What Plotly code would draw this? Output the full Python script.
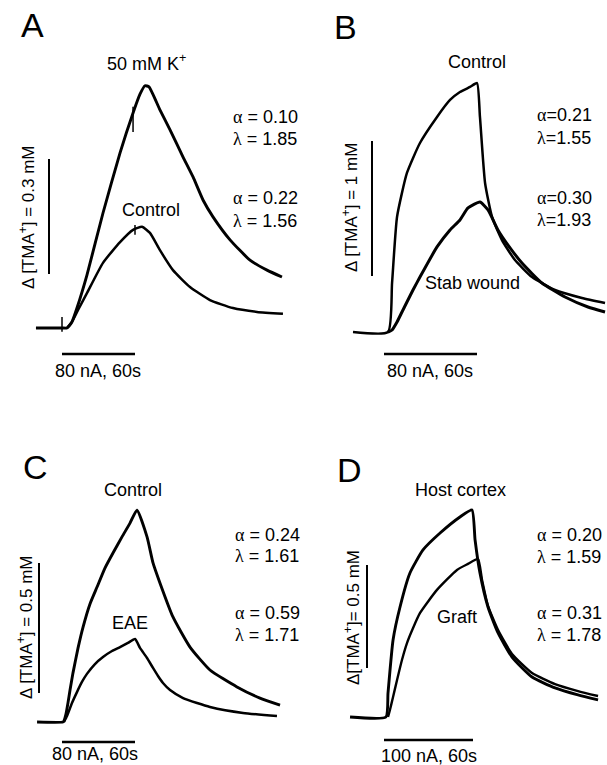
import plotly.graph_objects as go

W, H = 607, 765
FONT = "Liberation Sans, Arial, sans-serif"

# ---------------- data (time in s, concentration in mM) ----------------
# Panel A
a_k_t = [-21.4, 0, 4.1, 6.0, 8.2, 12.3, 20.5, 33.7, 47.7, 58.4, 64.1, 68.2, 71.5, 80.5, 88.8, 99.5, 107.7, 115.9, 124.1, 138.1, 154.5, 168.5, 180.8]
a_k_c = [0, 0, 0, 0.006, 0.016, 0.052, 0.138, 0.300, 0.457, 0.561, 0.610, 0.632, 0.629, 0.569, 0.517, 0.446, 0.394, 0.334, 0.290, 0.230, 0.177, 0.151, 0.133]
a_ctl_t = [4.1, 8.2, 13.2, 20.5, 33.7, 47.7, 58.4, 65.8, 72.3, 80.5, 91.2, 105.2, 121.6, 140.5, 160.3, 181.6]
a_ctl_c = [0, 0.016, 0.047, 0.091, 0.170, 0.224, 0.256, 0.264, 0.248, 0.203, 0.151, 0.107, 0.073, 0.052, 0.042, 0.037]
# small current-marker ticks in panel A (time, low conc, high conc)
a_marks = [(0, -0.010, 0.029), (58.4, 0.511, 0.577), (60.0, 0.243, 0.269)]

# Panel B
b_ctl_t = [-20.0, 2.6, 5.2, 8.4, 14.8, 23.2, 34.2, 42.6, 49.0, 55.5, 60.0, 61.9, 65.2, 69.7, 76.1, 84.5, 95.5, 110.3, 127.7, 142.6]
b_ctl_c = [0, 0, 0.363, 0.852, 1.178, 1.400, 1.593, 1.719, 1.778, 1.815, 1.844, 1.593, 1.104, 0.852, 0.681, 0.533, 0.407, 0.311, 0.252, 0.215]
b_stab_t = [2.6, 5.2, 8.4, 11.6, 14.8, 18.7, 23.2, 34.2, 42.6, 49.0, 54.2, 61.9, 67.1, 73.5, 80.0, 89.0, 101.9, 116.8, 131.6, 142.6]
b_stab_c = [0, 0.015, 0.074, 0.148, 0.222, 0.311, 0.407, 0.630, 0.756, 0.830, 0.919, 0.963, 0.904, 0.756, 0.644, 0.511, 0.363, 0.259, 0.185, 0.148]

# Panel C
c_ctl_t = [-20.5, 0.8, 1.6, 3.3, 4.9, 6.6, 9.0, 13.2, 17.3, 23.0, 28.8, 35.3, 41.9, 49.3, 55.9, 61.6, 69.9, 74.8, 80.5, 91.2, 105.2, 121.6, 143.8, 162.7, 179.2]
c_ctl_c = [0, 0, 0.004, 0.031, 0.073, 0.123, 0.188, 0.285, 0.365, 0.454, 0.519, 0.592, 0.650, 0.712, 0.765, 0.815, 0.712, 0.612, 0.535, 0.404, 0.288, 0.200, 0.135, 0.092, 0.065]
c_eae_t = [1.6, 4.1, 8.2, 12.3, 16.4, 20.5, 27.1, 33.7, 41.1, 47.7, 54.2, 60.0, 64.1, 69.9, 74.8, 78.9, 83.0, 88.8, 99.5, 111.0, 121.6, 148.8, 176.7]
c_eae_c = [0, 0.023, 0.073, 0.115, 0.154, 0.185, 0.223, 0.250, 0.273, 0.288, 0.304, 0.319, 0.285, 0.246, 0.208, 0.177, 0.150, 0.123, 0.092, 0.073, 0.058, 0.035, 0.023]

# Panel D
d_host_t = [-22.9, 1.3, 2.7, 6.1, 10.8, 17.5, 26.3, 37.8, 51.2, 59.3, 61.4, 64.7, 70.1, 76.9, 86.3, 99.8, 115.3, 130.8, 144.3]
d_host_c = [0, 0, 0.117, 0.374, 0.534, 0.699, 0.811, 0.893, 0.971, 1.005, 0.859, 0.699, 0.534, 0.408, 0.291, 0.194, 0.141, 0.107, 0.083]
d_graft_t = [2.7, 4.0, 6.1, 8.8, 12.1, 15.5, 19.6, 24.3, 35.7, 49.2, 56.6, 63.4, 66.1, 70.1, 76.9, 86.3, 99.8, 115.3, 130.8, 144.3]
d_graft_c = [0, 0.034, 0.097, 0.180, 0.277, 0.359, 0.432, 0.505, 0.617, 0.714, 0.743, 0.767, 0.665, 0.540, 0.422, 0.306, 0.214, 0.160, 0.126, 0.102]

# scale bars (value of the bar)
bar_time = 60
bar_conc = {"A": 0.3, "B": 1.0, "C": 0.5, "D": 0.5}

# ---------------- layout calibration (pixels) ----------------
panels = {
    "A": dict(box=(0, 303, 0, 382), t0px=62, pps=73 / 60, base=328, ppm=115 / 0.3, vbar_x=49, vbar_y=274, hbar_y=354),
    "B": dict(box=(303, 607, 0, 382), t0px=384, pps=93 / 60, base=332, ppm=135 / 1.0, vbar_x=372, vbar_y=276, hbar_y=354),
    "C": dict(box=(0, 303, 382, 765), t0px=62, pps=73 / 60, base=722, ppm=130 / 0.5, vbar_x=39, vbar_y=693, hbar_y=742),
    "D": dict(box=(303, 607, 382, 765), t0px=384, pps=89 / 60, base=717, ppm=103 / 0.5, vbar_x=367, vbar_y=668, hbar_y=740),
}

series = {
    "A": [(a_k_t, a_k_c, 2.9), (a_ctl_t, a_ctl_c, 2.5)],
    "B": [(b_ctl_t, b_ctl_c, 2.5), (b_stab_t, b_stab_c, 3.0)],
    "C": [(c_ctl_t, c_ctl_c, 2.9), (c_eae_t, c_eae_c, 2.5)],
    "D": [(d_host_t, d_host_c, 2.9), (d_graft_t, d_graft_c, 2.4)],
}

fig = go.Figure()
shapes = []
for i, key in enumerate(["A", "B", "C", "D"]):
    p = panels[key]
    x0, x1, y0, y1 = p["box"]
    sfx = "" if i == 0 else str(i + 1)
    xr = [(x0 - p["t0px"]) / p["pps"], (x1 - p["t0px"]) / p["pps"]]
    yr = [(p["base"] - y1) / p["ppm"], (p["base"] - y0) / p["ppm"]]
    fig.layout["xaxis" + sfx] = dict(domain=[x0 / W, x1 / W], range=xr, visible=False,
                                     anchor="y" + sfx, fixedrange=True)
    fig.layout["yaxis" + sfx] = dict(domain=[1 - y1 / H, 1 - y0 / H], range=yr, visible=False,
                                     anchor="x" + sfx, fixedrange=True)
    for t, c, w in series[key]:
        fig.add_trace(go.Scatter(x=t, y=c, mode="lines", xaxis="x" + sfx, yaxis="y" + sfx,
                                 line=dict(color="black", width=w, shape="spline", smoothing=0.5),
                                 hoverinfo="skip", showlegend=False))
    vt = (p["vbar_x"] - p["t0px"]) / p["pps"]
    vc0 = (p["base"] - p["vbar_y"]) / p["ppm"]
    hc = (p["base"] - p["hbar_y"]) / p["ppm"]
    shapes.append(dict(type="line", xref="x" + sfx, yref="y" + sfx, x0=vt, x1=vt, y0=vc0,
                       y1=vc0 + bar_conc[key], line=dict(color="black", width=2)))
    shapes.append(dict(type="line", xref="x" + sfx, yref="y" + sfx, x0=0, x1=bar_time, y0=hc,
                       y1=hc, line=dict(color="black", width=2.5)))

for t, lo, hi in a_marks:
    shapes.append(dict(type="line", xref="x", yref="y", x0=t, x1=t, y0=lo, y1=hi,
                       line=dict(color="black", width=1.5)))

GR = "<span style='font-family:Liberation Serif'>%s</span>"
al, la = GR % "α", GR % "λ"

FS = 18
texts = [
    ("A", 32, 25, 34, "center", 0),
    ("B", 345, 27, 34, "center", 0),
    ("C", 35, 467, 34, "center", 0),
    ("D", 349, 470, 34, "center", 0),
    ("50 mM K<sup>+</sup>", 146, 62, FS, "center", 0),
    ("Control", 151, 210, FS, "center", 0),
    ("Control", 477, 62, FS, "center", 0),
    ("Stab wound", 472, 283, FS, "center", 0),
    ("Control", 133, 490, FS, "center", 0),
    ("EAE", 130, 623, FS, "center", 0),
    ("Host cortex", 460, 490, FS, "center", 0),
    ("Graft", 457, 617, FS, "center", 0),
    ("80 nA, 60s", 98, 371, FS, "center", 0),
    ("80 nA, 60s", 430, 371, FS, "center", 0),
    ("80 nA, 60s", 95, 754, FS, "center", 0),
    ("100 nA, 60s", 429, 756, FS, "center", 0),
    (al + " = 0.10", 231, 117, FS, "left", 0),
    (la + " = 1.85", 231, 139, FS, "left", 0),
    (al + " = 0.22", 231, 198, FS, "left", 0),
    (la + " = 1.56", 231, 221, FS, "left", 0),
    (al + "=0.21", 535, 115, FS, "left", 0),
    (la + "=1.55", 535, 138, FS, "left", 0),
    (al + "=0.30", 535, 198, FS, "left", 0),
    (la + "=1.93", 535, 220, FS, "left", 0),
    (al + " = 0.24", 233, 535, FS, "left", 0),
    (la + " = 1.61", 233, 556, FS, "left", 0),
    (al + " = 0.59", 233, 613, FS, "left", 0),
    (la + " = 1.71", 233, 635, FS, "left", 0),
    (al + " = 0.20", 535, 535, FS, "left", 0),
    (la + " = 1.59", 535, 557, FS, "left", 0),
    (al + " = 0.31", 535, 613, FS, "left", 0),
    (la + " = 1.78", 535, 635, FS, "left", 0),
    ("Δ [TMA<sup>+</sup>] = 0.3 mM", 27, 218, 17, "center", -90),
    ("Δ [TMA<sup>+</sup>] = 1 mM", 350, 208, 17, "center", -90),
    ("Δ [TMA<sup>+</sup>] = 0.5 mM", 25, 628, 17, "center", -90),
    ("Δ[TMA<sup>+</sup>]= 0.5 mM", 352, 618, 17, "center", -90),
]
annotations = []
for txt, x, y, s, anc, ang in texts:
    annotations.append(dict(text=txt, x=x / W, y=1 - y / H, xref="paper", yref="paper",
                            xanchor=anc, yanchor="middle", showarrow=False, textangle=ang,
                            font=dict(family=FONT, size=s, color="black")))

fig.update_layout(width=W, height=H, margin=dict(l=0, r=0, t=0, b=0),
                  paper_bgcolor="white", plot_bgcolor="white",
                  shapes=shapes, annotations=annotations, showlegend=False)
fig.write_html("out.html", config={"displayModeBar": False, "staticPlot": True},
               post_script="document.body.style.margin='0';document.body.style.overflow='hidden';")
